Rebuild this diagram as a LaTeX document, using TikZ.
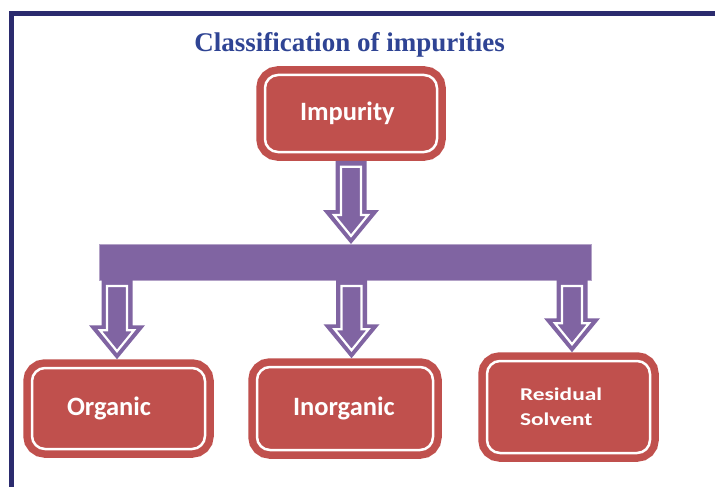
\documentclass[tikz,border=0pt]{standalone}
\usepackage{fontspec}
\setmainfont{Liberation Serif}
\newfontfamily\boxfont{Carlito}
\newfontfamily\wideboxfont[FakeStretch=1.3]{Carlito}
\usepackage{tikz}
\usetikzlibrary{calc}

\definecolor{boxred}{HTML}{C0504D}
\definecolor{arrowpurple}{HTML}{8064A2}
\definecolor{barline}{HTML}{B3A2C7}
\definecolor{titleblue}{HTML}{2F4494}
\definecolor{framenavy}{HTML}{2B2B6E}

% hollow block arrow: #1 gives the top of the shaft, #2 the tip
\newcommand{\hollowarrow}[2]{%
  \fill[arrowpurple] let \p1 = (#1), \p2 = (#2) in
    (\x2-15.5pt,\y1) -- (\x2-15.5pt,\y2+34pt) -- (\x2-28pt,\y2+34pt)
    -- (\x2,\y2) -- (\x2+28pt,\y2+34pt) -- (\x2+15.5pt,\y2+34pt)
    -- (\x2+15.5pt,\y1) -- cycle;
  \draw[arrowline] let \p1 = (#1), \p2 = (#2) in
    (\x2-10pt,\y1-6pt) -- (\x2-10pt,\y2+29pt) -- (\x2-17pt,\y2+29pt)
    -- (\x2,\y2+8pt) -- (\x2+17pt,\y2+29pt) -- (\x2+10pt,\y2+29pt)
    -- (\x2+10pt,\y1-6pt) -- cycle;}

\begin{document}
\begin{tikzpicture}[
    x = 1pt, y = -1pt,
    box/.style = {draw = boxred, fill = boxred, line width = 7.5pt,
      double = white, double distance = 2.5pt, rounded corners = 13pt,
      outer sep = 8.75pt, inner sep = 0pt, text = white, align = left,
      font = \boxfont\bfseries\fontsize{26.5}{28}\selectfont,
      minimum width = 173pt, minimum height = 81pt},
    bar/.style = {draw = barline, fill = arrowpurple, line width = 0.8pt,
      outer sep = 0pt, inner sep = 0pt,
      minimum width = 492pt, minimum height = 36pt},
    arrowline/.style = {draw = white, line width = 2.2pt, line join = miter},
    title/.style = {text = titleblue, inner sep = 0pt,
      font = \bfseries\fontsize{27}{30}\selectfont}
  ]
  \useasboundingbox (0, 0) rectangle (715, 487);
  \fill[white] (0, 0) rectangle (715, 487);

  % frame
  \draw[framenavy, line width = 4.5pt, line join = miter]
    (11.5, 487) -- (11.5, 13.5) -- (715, 13.5);

  \node[title] (title) at (349.5, 45) {Classification of impurities};

  \node[box, minimum width = 172pt, minimum height = 77pt, text width = 102pt]
    (imp) at (351, 113.5) {Impurity};
  \node[bar] (bar) at (345, 262) {};

  \node[box, text width = 103pt] (org) at (118.5, 408.5) {Organic};
  \node[box, minimum width = 176pt, minimum height = 83pt, text width = 104pt]
    (inorg) at (345, 408.5) {Inorganic};
  \node[box, minimum width = 163pt, minimum height = 92pt, text width = 97pt,
    font = \wideboxfont\bfseries\fontsize{18}{25}\selectfont]
    (res) at (568.5, 407) {Residual\\Solvent};

  % Arrows
  \hollowarrow{imp.south}{imp.south |- bar.north}
  \hollowarrow{bar.south}{[xshift=-1.5pt]org.north}
  \hollowarrow{bar.south}{[xshift=6.5pt]inorg.north}
  \hollowarrow{bar.south}{[xshift=3.5pt]res.north}

\end{tikzpicture}
\end{document}
